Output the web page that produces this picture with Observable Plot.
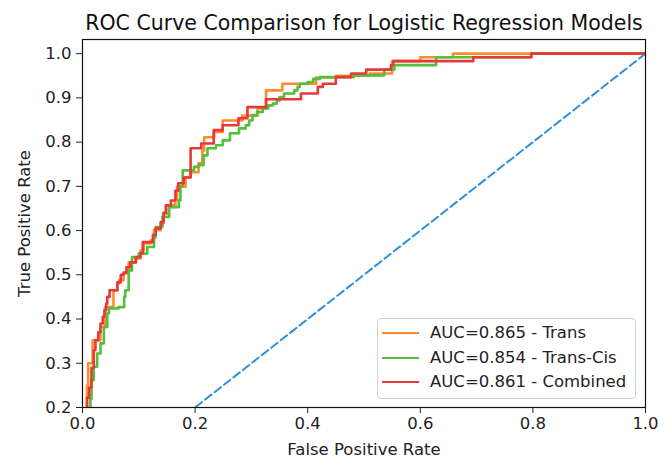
<!DOCTYPE html>
<html>
<head>
<meta charset="utf-8">
<script src="https://cdn.jsdelivr.net/npm/d3@7"></script>
<script src="https://cdn.jsdelivr.net/npm/@observablehq/plot@0.6"></script>
<style>
  body { margin: 0; background: #fff; font-family: "DejaVu Sans", sans-serif; }
  #wrap { position: relative; width: 667px; height: 461px; }
  #legend { position: absolute; left: 377px; top: 318px; width: 259px; height: 81px;
    border: 1px solid #d0d0d0; border-radius: 4px; background: rgba(255,255,255,0.85);
    box-sizing: border-box; }
  .row { position: absolute; left: 0; height: 20px; }
  .sw { position: absolute; left: 4px; width: 37px; height: 0; border-top: 2.5px solid; }
  .lab { position: absolute; left: 52px; font-size: 16.5px; color: #222; white-space: nowrap; line-height: 20px; }
</style>
</head>
<body>
<div id="wrap"></div>
<script>
// ---- data ----
const models = ["AUC=0.865 - Trans", "AUC=0.854 - Trans-Cis", "AUC=0.861 - Combined"];
const colors = ["#ff8c2a", "#52bf3d", "#e8383a"];

const fprTrans = [0,0.008,0.010,0.018,0.032,0.040,0.055,0.062,0.065,0.073,0.082,0.094,0.103,0.109,0.121,0.127,0.139,0.144,0.153,0.165,0.168,0.183,0.192,0.206,0.213,0.216,0.234,0.249,0.284,0.311,0.326,0.355,0.415,0.450,0.510,0.550,0.600,0.658,1];
const tprTrans = [0,0.250,0.300,0.352,0.382,0.427,0.465,0.481,0.488,0.503,0.528,0.537,0.555,0.571,0.578,0.601,0.616,0.638,0.657,0.669,0.699,0.721,0.732,0.752,0.781,0.811,0.823,0.849,0.860,0.876,0.917,0.932,0.946,0.950,0.955,0.983,0.992,1.000,1];

const fprTransCis = [0,0.014,0.016,0.020,0.026,0.032,0.038,0.044,0.047,0.064,0.074,0.076,0.082,0.088,0.100,0.115,0.127,0.130,0.142,0.154,0.171,0.174,0.178,0.198,0.206,0.215,0.222,0.237,0.249,0.262,0.278,0.290,0.296,0.302,0.310,0.320,0.330,0.338,0.345,0.350,0.358,0.376,0.382,0.386,0.400,0.410,0.422,0.482,0.536,0.554,0.628,0.797,1];
const tprTransCis = [0,0.220,0.262,0.292,0.322,0.345,0.382,0.413,0.424,0.427,0.450,0.465,0.510,0.540,0.548,0.563,0.585,0.608,0.631,0.653,0.668,0.700,0.736,0.744,0.748,0.770,0.786,0.793,0.804,0.820,0.831,0.838,0.849,0.861,0.868,0.876,0.883,0.887,0.894,0.902,0.910,0.917,0.925,0.932,0.936,0.943,0.947,0.951,0.964,0.974,0.992,1.000,1];

const fprCombined = [0,0.008,0.012,0.016,0.020,0.023,0.028,0.032,0.036,0.039,0.042,0.044,0.048,0.062,0.068,0.073,0.078,0.085,0.095,0.103,0.107,0.125,0.130,0.139,0.144,0.148,0.157,0.165,0.170,0.180,0.192,0.211,0.233,0.249,0.277,0.293,0.326,0.388,0.418,0.427,0.450,0.477,0.504,0.548,0.552,0.694,0.797,1];
const tprCombined = [0,0.222,0.245,0.290,0.330,0.352,0.370,0.390,0.405,0.420,0.435,0.450,0.465,0.483,0.500,0.505,0.517,0.528,0.540,0.549,0.574,0.590,0.605,0.619,0.640,0.657,0.668,0.690,0.707,0.720,0.786,0.797,0.827,0.838,0.854,0.879,0.897,0.910,0.925,0.932,0.947,0.955,0.964,0.974,0.983,0.992,1.000,1];

const diagX = [0, 1];
const diagY = [0, 1];

const xTicks = [0, 0.2, 0.4, 0.6, 0.8, 1.0];
const yTicks = [0.2, 0.3, 0.4, 0.5, 0.6, 0.7, 0.8, 0.9, 1.0];
const title = "ROC Curve Comparison for Logistic Regression Models";

// ---- build ----
const series = [[fprTrans, tprTrans], [fprTransCis, tprTransCis], [fprCombined, tprCombined]];
const rows = series.flatMap(([xs, ys], i) => xs.map((x, j) => ({model: models[i], fpr: x, tpr: ys[j]})));
const diag = diagX.map((x, i) => ({fpr: x, tpr: diagY[i]}));

const chart = Plot.plot({
  width: 667,
  height: 461,
  marginLeft: 82,
  marginRight: 22,
  marginTop: 39,
  marginBottom: 54,
  style: {fontFamily: "DejaVu Sans", fontSize: "16px", background: "white", color: "#222"},
  x: {domain: [0, 1]},
  y: {domain: [0.2, 1.032]},
  color: {domain: models, range: colors},
  marks: [
    Plot.line(diag, {x: "fpr", y: "tpr", stroke: "#2f8fdf", strokeWidth: 2, strokeDasharray: "8,4", clip: true}),
    Plot.line(rows, {x: "fpr", y: "tpr", z: "model", stroke: "model", curve: "step-after", strokeWidth: 2.6, clip: true}),
    Plot.frame({stroke: "#111", strokeWidth: 1.2}),
    Plot.axisX({ticks: xTicks, tickFormat: d3.format(".1f"), tickSize: 6, tickPadding: 4, fontSize: 16.5,
      label: null}),
    Plot.axisX({ticks: [], label: "False Positive Rate", labelAnchor: "center", labelOffset: 47, labelArrow: "none", fontSize: 16.5}),
    Plot.axisY({ticks: yTicks, tickFormat: d3.format(".1f"), tickSize: 6, tickPadding: 5, fontSize: 16.5,
      label: "True Positive Rate", labelAnchor: "center", labelOffset: 64, labelArrow: "none"}),
    Plot.text([title], {frameAnchor: "top", dy: -24, fontSize: 20.5, fill: "#111"})
  ]
});
document.getElementById("wrap").appendChild(chart);

const leg = document.createElement("div");
leg.id = "legend";
models.forEach((m, i) => {
  const r = document.createElement("div");
  r.className = "row";
  r.style.top = (4 + i * 24.5) + "px";
  r.innerHTML = `<span class="sw" style="border-color:${colors[i]};top:9px"></span><span class="lab" style="top:0">${m}</span>`;
  leg.appendChild(r);
});
document.getElementById("wrap").appendChild(leg);
</script>
</body>
</html>
